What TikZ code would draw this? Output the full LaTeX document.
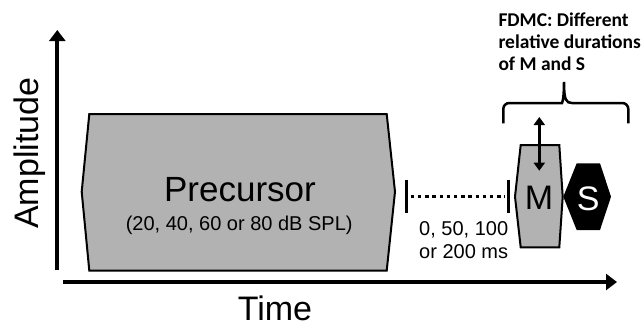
\documentclass[tikz,border=0pt]{standalone}
\usepackage{fontspec}
\setmainfont{Liberation Sans}
\newfontfamily\notefont{Carlito}
\usetikzlibrary{arrows.meta}
\definecolor{boxgray}{RGB}{178,178,178}

\begin{document}
\begin{tikzpicture}[x=1pt,y=-1pt,
  axis/.style={line width=4pt,-{Triangle[length=11pt,width=16pt]}},
  outline/.style={draw=black,line width=2pt,line join=miter},
  bigtext/.style={inner sep=0pt,font=\fontsize{34}{40}\selectfont},
  smalltext/.style={inner sep=0pt,font=\fontsize{20}{23.3}\selectfont}]
 \useasboundingbox (0,0) rectangle (643,325);
 % axes
 \coordinate (origin) at (57.3,270);
 \coordinate (ytop) at (57.3,30);
 \coordinate (xstart) at (63,282);
 \coordinate (xend) at (617,282);
 \draw[axis] (origin) -- (ytop);
 \draw[axis] (xstart) -- (xend);
 \node[bigtext,rotate=90,anchor=base] (amp) at (38.3,153.3) {Amplitude};
 \node[bigtext,anchor=base,text depth=0pt] (time) at (275,320) {Time};
 % precursor
 \filldraw[outline,fill=boxgray] (89.3,114) -- (386.7,114) -- (395,191.7) -- (386.7,270.7) -- (89.3,270.7) -- (81.7,191.7) -- cycle;
 \node[bigtext,anchor=base,font=\fontsize{35}{40}\selectfont] (precursor) at (240,201.7) {Precursor};
 \node[smalltext,anchor=base] (level) at (239.2,230) {(20, 40, 60 or 80 dB SPL)};
 % silent gap
 \coordinate (gapL) at (406.7,196.7);
 \coordinate (gapR) at (508.3,196.7);
 \draw[line width=2.5pt] (gapL) ++(0,-17) -- ++(0,33);
 \draw[line width=2.5pt] (gapR) ++(0,-17) -- ++(0,33);
 \draw[line width=2.5pt,dash pattern=on 3.5pt off 3.7pt,shorten <=4pt,shorten >=3pt] (gapL) -- (gapR);
 \node[smalltext,align=left,anchor=base west] (gaptext) at (419,258.3) {0, 50, 100\\or 200 ms};
 % masker and signal
 \filldraw[outline,fill=boxgray] (520.7,145) -- (559.3,145) -- (562.7,196.7) -- (559.3,247.3) -- (520.7,247.3) -- (515,196.7) -- cycle;
 \node[bigtext,anchor=base] (masker) at (539,209) {M};
 \fill (576.7,163.3) -- (600,163.3) -- (611,196.7) -- (600,230) -- (576.7,230) -- (563.3,196.7) -- cycle;
 \node[bigtext,anchor=base,text=white] (signal) at (588.3,210) {S};
 \coordinate (levTop) at (539.3,117);
 \coordinate (levBot) at (539.3,170.7);
 \draw[line width=2.5pt,{Triangle[length=8pt,width=11pt]}-{Triangle[length=8pt,width=11pt]}] (levTop) -- (levBot);
 % brace
 \coordinate (braceL) at (503.3,123.3);
 \coordinate (braceR) at (628.3,123.3);
 \coordinate (braceTip) at (564,82);
 \draw[line width=2.5pt] (braceL) [rounded corners=6pt] -- (503.3,103) -- (556,103) [sharp corners] .. controls (562,103) and (564,100) .. (braceTip) .. controls (564,100) and (566,103) .. (572,103) [rounded corners=6pt] -- (628.3,103) -- (braceR);
 \node[anchor=base west,inner sep=0pt,align=left,font=\notefont\bfseries\fontsize{19.5}{21.7}\selectfont] (fdmc) at (498.3,70) {FDMC: Different\\relative durations\\of M and S};
\end{tikzpicture}
\end{document}
